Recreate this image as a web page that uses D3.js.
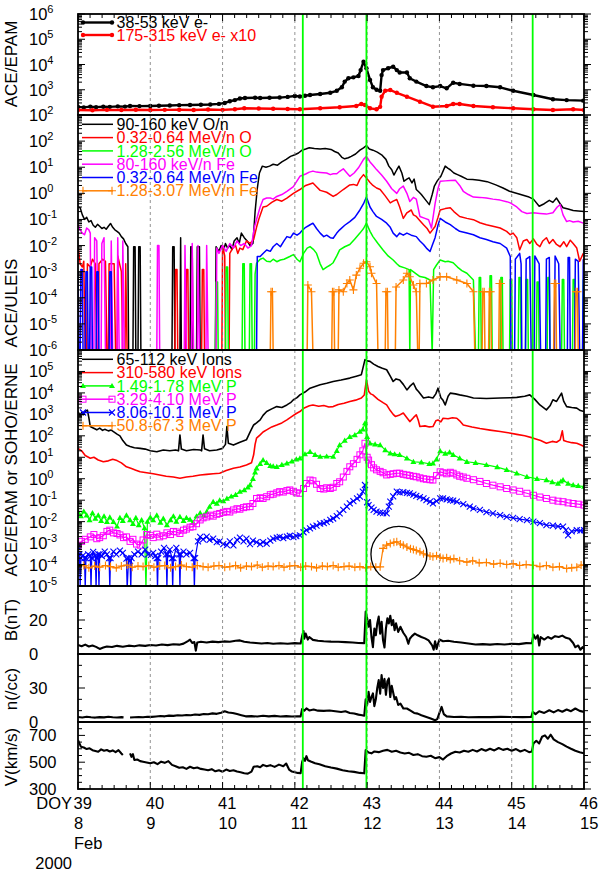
<!DOCTYPE html>
<html>
<head>
<meta charset="utf-8">
<script src="https://cdn.jsdelivr.net/npm/d3@7"></script>
<style>
body { margin: 0; background: #fff; }
</style>
</head>
<body>
<script>
// axis labels
var dayTicks = [39, 40, 41, 42, 43, 44, 45, 46];
var dateLabels = ["8", "9", "10", "11", "12", "13", "14", "15"];
var gridDays = [40, 41, 42, 43, 44, 45];
var shockDays = [42.11, 42.99, 45.29];

// ACE/EPAM electrons  [DOY, value]
var epamE38 = [[39.00,210],[39.08,200],[39.17,215],[39.25,205],[39.35,212],[39.44,210],[39.55,220],[39.65,215],[39.72,228],[39.85,225],[40.0,228],[40.12,232],[40.27,238],[40.4,245],[40.55,250],[40.7,255],[40.83,260],[40.95,275],[41.03,300],[41.10,350],[41.17,390],[41.24,450],[41.31,470],[41.45,480],[41.52,470],[41.65,485],[41.79,490],[41.9,520],[42.0,565],[42.07,540],[42.14,580],[42.21,620],[42.35,680],[42.49,760],[42.58,910],[42.65,1250],[42.69,2100],[42.74,2850],[42.81,3100],[42.88,3500],[42.91,6000],[42.95,12900],[42.99,7100],[43.04,2450],[43.08,1250],[43.13,1000],[43.18,910],[43.20,3800],[43.22,6000],[43.29,7100],[43.36,8200],[43.41,6000],[43.45,4800],[43.55,4800],[43.59,2850],[43.68,2100],[43.82,1400],[43.91,1250],[44.01,1400],[44.10,1140],[44.19,1900],[44.28,1700],[44.47,1450],[44.65,1400],[44.84,1250],[45.02,910],[45.30,620],[45.57,420],[45.76,390],[45.99,370]];
var epamE175 = [[39.0,158],[39.2,155],[39.4,160],[39.6,158],[39.8,162],[40.0,158],[40.2,160],[40.4,162],[40.6,158],[40.8,165],[41.0,160],[41.17,170],[41.3,185],[41.5,180],[41.7,178],[41.9,172],[42.07,168],[42.35,184],[42.62,202],[42.85,227],[42.92,273],[42.97,249],[43.04,184],[43.13,168],[43.18,210],[43.20,531],[43.25,915],[43.32,975],[43.41,760],[43.55,531],[43.73,336],[43.91,213],[44.10,227],[44.19,273],[44.28,273],[44.47,227],[44.74,202],[45.02,184],[45.30,168],[45.57,158],[45.85,168],[46.0,158]];

// ACE/ULEIS  (0 = no counts)
var uleisO90 = [[39.00,0.3],[39.03,0.28],[39.06,0.15],[39.09,0.1],[39.12,0.12],[39.15,0.08],[39.18,0.09],[39.21,0.06],[39.24,0.05],[39.27,0.065],[39.30,0.055],[39.33,0.045],[39.36,0.05],[39.39,0.042],[39.42,0.055],[39.45,0.07],[39.48,0.05],[39.51,0.04],[39.54,0.035],[39.57,0.03],[39.60,0.022],[39.63,0.018],[39.66,0.012],[39.69,0.009],[39.70,0],[39.76,0],[39.77,0.009],[39.79,0.009],[39.80,0],[39.83,0],[39.84,0.009],[39.86,0.009],[39.87,0],[40.30,0],[40.31,0.009],[40.33,0.009],[40.34,0],[40.41,0],[40.42,0.02],[40.43,0],[40.55,0],[40.56,0.009],[40.58,0.009],[40.59,0],[40.64,0],[40.65,0.009],[40.68,0.009],[40.69,0],[40.90,0],[40.91,0.009],[40.95,0.006],[40.98,0.01],[41.01,0.006],[41.04,0.012],[41.07,0.008],[41.10,0.01],[41.13,0.007],[41.16,0.015],[41.20,0.02],[41.23,0.012],[41.26,0.03],[41.30,0.02],[41.34,0.015],[41.38,0.01],[41.42,0.012],[41.45,0.2],[41.48,1.5],[41.51,6],[41.55,11],[41.6,10],[41.65,11],[41.7,13],[41.76,12],[41.82,16],[41.88,20],[41.94,26],[42.0,30],[42.05,35],[42.1,45],[42.15,50],[42.2,56],[42.27,52],[42.35,50],[42.42,52],[42.5,48],[42.55,40],[42.6,35],[42.65,24],[42.69,21],[42.74,23],[42.78,26],[42.84,32],[42.9,45],[42.95,55],[42.99,68],[43.03,50],[43.08,45],[43.14,38],[43.2,30],[43.26,20],[43.3,11],[43.34,8],[43.37,5],[43.41,8],[43.44,11],[43.48,6],[43.51,2.9],[43.55,3.5],[43.58,3.9],[43.62,2.5],[43.65,3.5],[43.68,1.4],[43.72,1.1],[43.75,0.9],[43.8,0.6],[43.86,0.37],[43.9,0.9],[43.93,1.9],[43.97,3],[44.02,4.5],[44.08,11],[44.12,9],[44.15,8],[44.2,6],[44.25,5.2],[44.3,4.5],[44.38,3.5],[44.46,3.4],[44.55,3.2],[44.66,2.8],[44.78,2.1],[44.88,1.6],[44.97,1.2],[45.1,0.95],[45.24,0.72],[45.3,0.6],[45.38,0.32],[45.45,0.4],[45.52,0.54],[45.57,0.45],[45.62,0.66],[45.67,0.4],[45.71,0.28],[45.78,0.25],[45.85,0.22],[45.92,0.21],[46.0,0.2]];
var uleisO032 = [[39.0,0.01],[39.03,0.002],[39.06,0.0015],[39.08,0.0025],[39.10,0],[39.12,0],[39.13,0.002],[39.17,0.0015],[39.2,0.003],[39.24,0.002],[39.26,0],[39.28,0],[39.29,0.002],[39.34,0.003],[39.38,0.0025],[39.40,0],[39.42,0],[39.43,0.002],[39.5,0.002],[39.52,0],[39.54,0],[39.55,0.004],[39.6,0.001],[39.62,0],[39.65,0],[39.66,0.002],[39.68,0],[40.34,0],[40.35,0.0012],[40.37,0.0012],[40.38,0],[40.49,0],[40.50,0.0012],[40.52,0.0012],[40.53,0],[40.71,0],[40.72,0.0012],[40.74,0.0012],[40.75,0],[40.99,0],[41.0,0.01],[41.03,0.004],[41.04,0],[41.09,0],[41.1,0.005],[41.14,0.008],[41.18,0.01],[41.21,0.005],[41.24,0.008],[41.28,0.007],[41.33,0.015],[41.38,0.012],[41.43,0.017],[41.47,0.05],[41.50,0.1],[41.56,0.3],[41.61,0.32],[41.68,0.45],[41.75,0.58],[41.82,0.5],[41.89,0.66],[41.98,1.0],[42.07,1.4],[42.15,2.0],[42.25,2.5],[42.3,1.8],[42.35,1.3],[42.44,1.1],[42.53,0.76],[42.58,0.9],[42.62,1.1],[42.67,1.4],[42.76,2.1],[42.81,2.2],[42.86,2.0],[42.90,3.5],[42.95,5.2],[42.99,3.9],[43.04,2.6],[43.08,2.0],[43.13,1.6],[43.18,1.4],[43.25,0.8],[43.32,0.43],[43.36,0.5],[43.41,0.58],[43.45,0.3],[43.50,0.11],[43.55,0.18],[43.61,0.23],[43.64,0.15],[43.68,0.13],[43.73,0.09],[43.78,0.063],[43.83,0.045],[43.87,0.03],[43.94,0.054],[43.98,0.12],[44.01,0.23],[44.08,0.26],[44.15,0.28],[44.2,0.2],[44.28,0.13],[44.38,0.11],[44.47,0.098],[44.56,0.075],[44.65,0.063],[44.74,0.055],[44.84,0.047],[44.93,0.035],[44.98,0.026],[45.02,0.03],[45.07,0.02],[45.11,0.0068],[45.16,0.015],[45.21,0.017],[45.25,0.012],[45.30,0.018],[45.35,0.011],[45.39,0.0091],[45.43,0.015],[45.48,0.02],[45.52,0.012],[45.57,0.017],[45.62,0.011],[45.67,0.009],[45.72,0.014],[45.76,0.0091],[45.81,0.016],[45.85,0.012],[45.90,0.008],[45.94,0.0025],[45.99,0.005]];
var uleisO128 = [[40.90,0],[40.91,0.0004],[40.93,0.0004],[40.94,0],[41.04,0],[41.05,0.0015],[41.07,0.0015],[41.08,0],[41.27,0],[41.28,0.002],[41.30,0.002],[41.31,0],[41.37,0],[41.38,0.002],[41.40,0.002],[41.41,0],[41.44,0],[41.45,0.0008],[41.47,0.0021],[41.52,0.003],[41.56,0.0033],[41.61,0.0025],[41.66,0.0024],[41.70,0.003],[41.75,0.0024],[41.80,0.0028],[41.85,0.003],[41.93,0.0038],[41.98,0.0045],[42.03,0.003],[42.07,0.0024],[42.12,0.005],[42.17,0.008],[42.21,0.0091],[42.26,0.007],[42.30,0.005],[42.35,0.002],[42.39,0.0012],[42.44,0.0015],[42.49,0.0018],[42.53,0.0022],[42.58,0.004],[42.62,0.0068],[42.69,0.009],[42.76,0.011],[42.83,0.018],[42.9,0.03],[42.95,0.045],[42.99,0.072],[43.04,0.035],[43.08,0.022],[43.15,0.012],[43.22,0.0068],[43.29,0.004],[43.36,0.0028],[43.41,0.002],[43.45,0.0016],[43.52,0.0014],[43.58,0.0012],[43.59,0],[43.60,0.0012],[43.66,0.0009],[43.73,0.00065],[43.80,0.0006],[43.87,0.00048],[43.90,0],[43.92,0.0012],[43.96,0.0018],[44.01,0.0028],[44.08,0.0024],[44.12,0.0025],[44.19,0.0022],[44.25,0.0015],[44.31,0.0011],[44.38,0.00087],[44.47,0.00048],[44.50,0],[44.54,0],[44.55,0.0006],[44.57,0.0006],[44.58,0],[44.69,0],[44.70,0.0007],[44.72,0.0007],[44.73,0],[44.84,0],[44.85,0.0006],[44.87,0.0006],[44.88,0],[44.97,0],[44.98,0.0005],[45.0,0.0005],[45.01,0],[45.09,0],[45.10,0.0006],[45.12,0.0006],[45.13,0],[45.19,0],[45.20,0.0005],[45.22,0.0005],[45.23,0],[45.34,0],[45.35,0.0004],[45.37,0.0004],[45.38,0],[45.49,0],[45.50,0.0006],[45.52,0.0006],[45.53,0],[45.69,0],[45.70,0.0005],[45.72,0.0005],[45.73,0],[45.84,0],[45.85,0.0005],[45.87,0.0005],[45.88,0],[45.98,0],[45.99,0.0005]];
var uleisFe80 = [[39.0,0.063],[39.03,0.04],[39.06,0.03],[39.09,0.026],[39.12,0.047],[39.15,0.04],[39.17,0.03],[39.18,0],[39.22,0],[39.23,0.02],[39.26,0.015],[39.28,0],[39.32,0],[39.33,0.012],[39.36,0.02],[39.38,0],[39.45,0],[39.46,0.015],[39.48,0],[39.54,0],[39.55,0.02],[39.57,0],[39.61,0],[39.62,0.015],[39.64,0],[40.09,0],[40.10,0.01],[40.12,0.01],[40.13,0],[40.47,0],[40.48,0.01],[40.50,0],[40.57,0],[40.58,0.012],[40.60,0],[40.65,0],[40.66,0.01],[40.68,0],[40.77,0],[40.78,0.01],[40.80,0],[40.91,0],[40.92,0.008],[40.95,0.005],[41.0,0.01],[41.05,0.006],[41.1,0.012],[41.15,0.008],[41.2,0.015],[41.25,0.01],[41.3,0.012],[41.35,0.008],[41.4,0.01],[41.44,0.05],[41.47,0.1],[41.52,0.3],[41.56,0.58],[41.61,0.66],[41.66,0.66],[41.7,0.6],[41.75,0.76],[41.82,0.9],[41.89,1.2],[41.98,1.8],[42.03,3],[42.07,4.5],[42.15,5.5],[42.2,6.5],[42.25,7.1],[42.30,6.5],[42.35,6.3],[42.44,6.0],[42.49,5.2],[42.53,5.6],[42.58,5.6],[42.62,7],[42.67,8.7],[42.72,6],[42.76,4.5],[42.82,6],[42.88,9.5],[42.95,20],[42.99,26],[43.04,16],[43.08,12],[43.13,8.1],[43.2,5],[43.27,2.9],[43.34,1.5],[43.41,1.0],[43.45,1.5],[43.50,1.9],[43.55,1.0],[43.59,0.49],[43.64,0.7],[43.68,0.6],[43.73,0.13],[43.8,0.11],[43.85,0.098],[43.89,0.047],[43.94,0.4],[43.98,1.5],[44.01,2.9],[44.08,3.0],[44.15,3.1],[44.22,3.2],[44.28,2],[44.33,1.2],[44.40,0.9],[44.47,0.72],[44.56,0.7],[44.65,0.66],[44.74,0.6],[44.84,0.55],[44.93,0.48],[44.98,0.43],[45.07,0.3],[45.14,0.2],[45.21,0.17],[45.30,0.18],[45.39,0.17],[45.48,0.16],[45.57,0.18],[45.63,0.3],[45.67,0.37],[45.71,0.15],[45.76,0.083],[45.80,0.09],[45.85,0.08],[45.92,0.085],[45.99,0.072]];
var uleisFe032 = [[39.0,0.001],[39.01,0],[39.03,0],[39.04,0.0012],[39.06,0.0012],[39.07,0],[39.10,0],[39.11,0.001],[39.13,0.001],[39.14,0],[39.16,0],[39.17,0.0015],[39.19,0.0015],[39.20,0],[39.25,0],[39.26,0.001],[39.28,0.001],[39.29,0],[39.43,0],[39.44,0.001],[39.46,0.001],[39.47,0],[41.47,0],[41.48,0.0038],[41.52,0.0038],[41.56,0.005],[41.61,0.0068],[41.66,0.006],[41.70,0.009],[41.75,0.012],[41.8,0.009],[41.85,0.015],[41.89,0.022],[41.94,0.02],[41.98,0.03],[42.03,0.025],[42.07,0.03],[42.11,0.04],[42.15,0.05],[42.20,0.06],[42.25,0.072],[42.30,0.045],[42.35,0.03],[42.40,0.022],[42.44,0.025],[42.49,0.02],[42.53,0.019],[42.58,0.03],[42.62,0.04],[42.69,0.06],[42.76,0.083],[42.83,0.12],[42.9,0.23],[42.95,0.4],[42.99,0.72],[43.04,0.3],[43.08,0.2],[43.13,0.13],[43.20,0.1],[43.27,0.072],[43.32,0.05],[43.36,0.03],[43.41,0.022],[43.45,0.03],[43.50,0.025],[43.55,0.03],[43.61,0.025],[43.68,0.022],[43.73,0.015],[43.78,0.011],[43.82,0.008],[43.87,0.0059],[43.90,0.01],[43.94,0.02],[43.98,0.06],[44.01,0.11],[44.08,0.08],[44.15,0.063],[44.22,0.045],[44.28,0.035],[44.38,0.03],[44.47,0.026],[44.56,0.02],[44.65,0.017],[44.74,0.014],[44.84,0.012],[44.93,0.008],[44.98,0.0038],[44.99,0],[45.04,0],[45.05,0.003],[45.11,0.005],[45.13,0.002],[45.14,0],[45.19,0],[45.2,0.003],[45.25,0.0038],[45.27,0],[45.31,0],[45.32,0.004],[45.38,0.002],[45.40,0],[45.47,0],[45.48,0.003],[45.52,0.0035],[45.53,0],[45.59,0],[45.6,0.004],[45.65,0.002],[45.67,0],[45.77,0],[45.78,0.0035],[45.80,0.0035],[45.81,0],[45.87,0],[45.88,0.003],[45.92,0.0025],[45.94,0],[45.98,0],[45.99,0.003]];
var uleisFe128 = [[41.66,0],[41.67,1.7e-4],[41.69,1.7e-4],[41.70,0],[42.17,0],[42.18,3.1e-4],[42.23,1.7e-4],[42.25,0],[42.51,0],[42.52,1.7e-4],[42.54,1.7e-4],[42.55,0],[42.60,0],[42.61,2e-4],[42.67,1.7e-4],[42.72,3.5e-4],[42.76,4.8e-4],[42.81,2e-4],[42.85,7.4e-4],[42.90,1.35e-3],[42.95,2.1e-3],[42.99,2.4e-3],[43.04,1.55e-3],[43.06,8.7e-4],[43.13,3.5e-4],[43.15,0],[43.25,0],[43.26,1.7e-4],[43.28,1.7e-4],[43.29,0],[43.39,0],[43.40,2.6e-4],[43.50,4.8e-4],[43.55,8.7e-4],[43.59,6.4e-4],[43.64,3.1e-4],[43.68,1.7e-4],[43.70,0],[43.72,0],[43.73,3.5e-4],[43.82,3.5e-4],[43.91,4.8e-4],[44.01,6.4e-4],[44.10,6.4e-4],[44.24,4.8e-4],[44.38,3.5e-4],[44.47,1.7e-4],[44.49,0],[44.59,0],[44.60,1.7e-4],[44.62,1.7e-4],[44.63,0],[44.68,0],[44.69,1.7e-4],[44.71,1.7e-4],[44.72,0],[44.82,0],[44.83,3.5e-4],[44.85,3.5e-4],[44.86,0],[45.58,0],[45.59,3.5e-4],[45.61,3.5e-4],[45.62,0],[45.88,0],[45.89,1.7e-4],[45.91,1.7e-4],[45.92,0]];

// ACE/EPAM ions and SOHO/ERNE protons
var epamI65 = [[39.00,1350],[39.03,900],[39.05,1200],[39.07,955],[39.10,1400],[39.13,1580],[39.15,700],[39.17,270],[39.21,230],[39.26,190],[39.30,230],[39.34,180],[39.37,200],[39.42,170],[39.46,185],[39.49,158],[39.54,120],[39.58,100],[39.62,60],[39.67,37],[39.72,32],[39.78,28],[39.86,26],[39.93,24],[40.00,20],[40.09,18],[40.18,22],[40.27,20],[40.35,22],[40.39,20],[40.41,110],[40.43,24],[40.50,20],[40.60,23],[40.69,22],[40.71,20],[40.73,110],[40.75,25],[40.82,20],[40.92,22],[41.00,26],[41.04,40],[41.06,270],[41.08,45],[41.15,37],[41.24,50],[41.33,65],[41.38,150],[41.43,320],[41.47,400],[41.52,550],[41.56,900],[41.61,1350],[41.68,1800],[41.75,2300],[41.82,2100],[41.89,2750],[41.94,3500],[41.98,4800],[42.03,6000],[42.07,8100],[42.14,11000],[42.21,16600],[42.28,20000],[42.35,24000],[42.44,28000],[42.53,34000],[42.64,40000],[42.76,49000],[42.85,60000],[42.92,71000],[42.97,355000],[43.00,310000],[43.04,295000],[43.09,220000],[43.15,170000],[43.21,140000],[43.27,120000],[43.32,60000],[43.36,34000],[43.40,45000],[43.45,40000],[43.50,25000],[43.55,13800],[43.59,20000],[43.64,29000],[43.68,15000],[43.71,11700],[43.78,5750],[43.85,6500],[43.91,5750],[43.95,9000],[43.98,16600],[44.02,6000],[44.05,4500],[44.08,2750],[44.12,7000],[44.15,9800],[44.22,9000],[44.28,8100],[44.38,7000],[44.47,5750],[44.65,5500],[44.84,5750],[45.00,6000],[45.07,6200],[45.18,7000],[45.25,8100],[45.32,5000],[45.39,2750],[45.48,1620],[45.53,2500],[45.57,4800],[45.62,4000],[45.69,9800],[45.72,4000],[45.76,2300],[45.83,2100],[45.90,1950],[45.95,1500],[46.00,1350]];
var epamI310 = [[39.00,26],[39.05,20],[39.10,12],[39.17,9],[39.22,10],[39.28,7.5],[39.35,6.2],[39.42,6.8],[39.48,8],[39.54,7],[39.60,5.5],[39.67,3.6],[39.74,3.0],[39.80,2.5],[39.86,2.1],[39.95,1.9],[40.04,1.7],[40.13,1.5],[40.22,1.3],[40.32,1.2],[40.41,1.05],[40.50,1.2],[40.59,1.3],[40.69,1.5],[40.78,1.6],[40.87,1.7],[40.96,1.8],[41.05,2.4],[41.15,3.1],[41.24,3.5],[41.33,4.4],[41.40,5.5],[41.43,13],[41.45,40],[41.47,78],[41.52,110],[41.56,150],[41.61,190],[41.68,260],[41.75,320],[41.82,400],[41.89,550],[41.96,800],[42.02,1100],[42.07,1350],[42.13,2000],[42.20,2500],[42.25,2750],[42.33,2400],[42.40,2600],[42.47,2200],[42.53,2300],[42.60,2900],[42.68,3300],[42.76,4000],[42.84,4600],[42.92,5750],[42.96,8000],[42.99,41000],[43.02,12000],[43.05,9000],[43.08,8100],[43.15,5000],[43.22,3500],[43.27,2750],[43.32,1500],[43.36,1000],[43.39,800],[43.44,900],[43.50,1150],[43.55,700],[43.59,460],[43.64,700],[43.68,955],[43.71,500],[43.73,270],[43.80,290],[43.86,260],[43.91,270],[43.95,500],[43.98,550],[44.02,450],[44.05,660],[44.12,620],[44.18,700],[44.24,660],[44.28,500],[44.33,320],[44.45,260],[44.56,220],[44.70,185],[44.84,158],[44.95,140],[45.07,117],[45.18,100],[45.30,78],[45.40,60],[45.48,45],[45.56,55],[45.62,50],[45.67,65],[45.70,170],[45.72,60],[45.76,54],[45.83,48],[45.90,45],[45.95,38],[46.00,32]];
var ernePro149 = [[39.00,0.029],[39.04,0.018],[39.08,0.03],[39.12,0.02],[39.16,0.012],[39.20,0.025],[39.24,0.014],[39.28,0.02],[39.32,0.011],[39.36,0.018],[39.40,0.0098],[39.44,0.016],[39.49,0.0098],[39.54,0.006],[39.58,0.015],[39.62,0.011],[39.67,0.02],[39.72,0.012],[39.76,0.008],[39.80,0.015],[39.84,0.0069],[39.88,0.012],[39.92,0.005],[39.94,0],[39.96,0.01],[40.00,0.016],[40.04,0.012],[40.09,0.02],[40.14,0.009],[40.18,0.014],[40.23,0.0069],[40.28,0.012],[40.32,0.018],[40.36,0.01],[40.41,0.017],[40.46,0.011],[40.50,0.015],[40.55,0.0126],[40.59,0.009],[40.64,0.018],[40.69,0.025],[40.74,0.02],[40.78,0.029],[40.82,0.05],[40.87,0.085],[40.92,0.07],[40.96,0.1],[41.01,0.09],[41.06,0.12],[41.12,0.15],[41.18,0.18],[41.24,0.25],[41.30,0.3],[41.35,0.4],[41.38,0.51],[41.42,1.0],[41.45,2.0],[41.47,3.1],[41.52,5.0],[41.56,7.4],[41.61,5.5],[41.66,4.0],[41.70,3.8],[41.75,3.6],[41.82,4.5],[41.89,5.2],[41.96,6.5],[42.02,8.0],[42.07,8.9],[42.14,14],[42.21,18],[42.28,13],[42.35,10.7],[42.44,11],[42.53,10.7],[42.58,20],[42.62,37],[42.69,60],[42.76,91],[42.83,110],[42.90,158],[42.94,200],[42.97,390],[43.00,90],[43.04,45],[43.11,40],[43.18,37],[43.25,22],[43.32,15.5],[43.38,14],[43.45,13],[43.55,9],[43.64,6.2],[43.75,5.8],[43.86,5.0],[43.91,5.2],[43.96,8],[44.01,19.5],[44.08,15],[44.14,17],[44.19,13],[44.28,9],[44.38,6.2],[44.50,5.5],[44.65,4.4],[44.80,3.5],[44.93,2.6],[45.07,1.8],[45.21,1.23],[45.35,1.0],[45.48,0.87],[45.56,0.7],[45.64,0.6],[45.68,0.75],[45.71,0.87],[45.78,0.6],[45.85,0.51],[45.92,0.47],[46.00,0.43]];
var ernePro329 = [[39.00,0.0008],[39.05,0.0012],[39.10,0.0015],[39.17,0.00195],[39.22,0.0025],[39.26,0.0016],[39.30,0.0018],[39.35,0.0022],[39.40,0.0035],[39.44,0.004],[39.49,0.003],[39.54,0.0028],[39.58,0.0024],[39.63,0.0018],[39.67,0.00195],[39.72,0.0012],[39.76,0.0015],[39.81,0.0009],[39.86,0.0008],[39.90,0.0014],[39.95,0.0025],[40.00,0.0023],[40.04,0.0018],[40.09,0.0026],[40.13,0.00195],[40.18,0.0022],[40.23,0.003],[40.28,0.0025],[40.32,0.0035],[40.36,0.0033],[40.41,0.0028],[40.46,0.004],[40.50,0.0045],[40.55,0.0055],[40.59,0.0058],[40.64,0.008],[40.69,0.012],[40.73,0.015],[40.78,0.0166],[40.83,0.02],[40.87,0.018],[40.92,0.022],[40.96,0.024],[41.01,0.027],[41.06,0.03],[41.10,0.028],[41.15,0.035],[41.20,0.04],[41.24,0.038],[41.29,0.045],[41.33,0.049],[41.38,0.05],[41.42,0.07],[41.47,0.12],[41.52,0.13],[41.56,0.12],[41.61,0.145],[41.66,0.18],[41.70,0.19],[41.75,0.22],[41.79,0.25],[41.84,0.24],[41.89,0.28],[41.93,0.3],[41.98,0.26],[42.02,0.22],[42.07,0.21],[42.12,0.35],[42.16,0.6],[42.21,0.87],[42.25,0.8],[42.30,0.55],[42.35,0.35],[42.40,0.33],[42.44,0.38],[42.49,0.35],[42.53,0.4],[42.58,0.6],[42.62,0.72],[42.67,1.2],[42.72,2.2],[42.76,3.6],[42.81,5],[42.86,8],[42.90,13],[42.94,20],[42.97,45],[43.00,10],[43.02,7.4],[43.06,4.5],[43.09,3.2],[43.13,2.6],[43.18,2.2],[43.22,1.9],[43.27,1.5],[43.32,1.6],[43.36,1.7],[43.41,1.8],[43.45,1.8],[43.50,1.6],[43.55,1.5],[43.59,1.4],[43.64,1.3],[43.68,1.23],[43.73,1.1],[43.78,1.0],[43.82,0.95],[43.87,0.9],[43.91,0.87],[43.96,1.4],[44.01,2.1],[44.05,1.9],[44.10,1.7],[44.15,2.0],[44.19,1.8],[44.24,1.5],[44.28,1.3],[44.33,1.2],[44.38,1.05],[44.47,0.9],[44.56,0.75],[44.65,0.6],[44.74,0.5],[44.84,0.42],[44.93,0.35],[45.02,0.3],[45.11,0.26],[45.21,0.21],[45.30,0.17],[45.39,0.14],[45.48,0.12],[45.57,0.1],[45.64,0.09],[45.71,0.085],[45.78,0.075],[45.85,0.07],[45.92,0.065],[46.00,0.059]];
var ernePro806 = [[39.00,0.00066],[39.02,0.0003],[39.03,0],[39.04,0.0002],[39.07,0.00027],[39.09,0.0002],[39.10,0],[39.11,0.0002],[39.14,0.0003],[39.17,0.00025],[39.18,0],[39.19,0.0002],[39.21,0.00039],[39.24,0.00025],[39.25,0],[39.26,0.0002],[39.28,0.0003],[39.29,0],[39.30,0.0003],[39.33,0.00025],[39.37,0.0004],[39.40,0.0003],[39.43,0.0002],[39.44,0],[39.45,0.0002],[39.49,0.0004],[39.53,0.0003],[39.58,0.00045],[39.62,0.00035],[39.67,0.00019],[39.68,0],[39.70,0.0002],[39.72,0.00015],[39.73,0],[39.74,0.0002],[39.78,0.0003],[39.83,0.0004],[39.88,0.0003],[39.93,0.0005],[39.97,0.0003],[40.01,0.00028],[40.04,0.00035],[40.07,0.00025],[40.09,0.0002],[40.10,0],[40.11,0.0002],[40.15,0.0004],[40.19,0.0006],[40.22,0.0003],[40.23,0],[40.24,0.0003],[40.27,0.0005],[40.30,0.0002],[40.31,0],[40.32,0.0002],[40.36,0.0006],[40.40,0.0003],[40.41,0],[40.42,0.0003],[40.46,0.0004],[40.50,0.0003],[40.55,0.00035],[40.60,0.0002],[40.61,0],[40.62,0.0002],[40.66,0.0012],[40.69,0.00195],[40.73,0.0015],[40.78,0.002],[40.82,0.0014],[40.87,0.0016],[40.92,0.0011],[40.96,0.0012],[41.01,0.0009],[41.06,0.0008],[41.10,0.0012],[41.15,0.00079],[41.20,0.0014],[41.24,0.0018],[41.29,0.0012],[41.33,0.0016],[41.38,0.0009],[41.42,0.0013],[41.47,0.0011],[41.52,0.0009],[41.56,0.0011],[41.61,0.00095],[41.66,0.0013],[41.70,0.0016],[41.75,0.0018],[41.79,0.00195],[41.84,0.0017],[41.89,0.002],[41.93,0.0022],[41.98,0.0019],[42.02,0.0021],[42.07,0.0023],[42.12,0.0032],[42.16,0.004],[42.21,0.0048],[42.25,0.0058],[42.30,0.0065],[42.35,0.008],[42.40,0.0085],[42.44,0.0098],[42.49,0.012],[42.53,0.014],[42.58,0.018],[42.62,0.024],[42.67,0.035],[42.72,0.05],[42.76,0.071],[42.81,0.09],[42.86,0.12],[42.90,0.145],[42.94,0.25],[42.97,0.51],[43.00,0.08],[43.02,0.059],[43.06,0.045],[43.09,0.035],[43.13,0.029],[43.18,0.026],[43.22,0.025],[43.27,0.024],[43.30,0.05],[43.32,0.085],[43.36,0.15],[43.41,0.25],[43.45,0.23],[43.50,0.24],[43.55,0.22],[43.59,0.21],[43.64,0.18],[43.68,0.16],[43.73,0.14],[43.78,0.12],[43.82,0.1],[43.87,0.085],[43.91,0.071],[43.96,0.09],[44.01,0.12],[44.05,0.12],[44.10,0.11],[44.15,0.1],[44.19,0.095],[44.24,0.085],[44.33,0.065],[44.42,0.05],[44.47,0.042],[44.56,0.035],[44.65,0.028],[44.74,0.024],[44.84,0.02],[44.93,0.0166],[45.02,0.015],[45.11,0.013],[45.21,0.0117],[45.30,0.01],[45.39,0.0085],[45.48,0.0069],[45.57,0.0065],[45.64,0.006],[45.71,0.0058],[45.75,0.004],[45.78,0.0023],[45.83,0.0035],[45.90,0.004],[45.95,0.0038],[46.00,0.004]];
var ernePro508 = [[39.00,8e-5],[39.08,9e-5],[39.15,7e-5],[39.23,8.5e-5],[39.30,7.5e-5],[39.38,9e-5],[39.45,8e-5],[39.53,7e-5],[39.60,8.5e-5],[39.68,9.5e-5],[39.75,7.5e-5],[39.83,8.5e-5],[39.90,8e-5],[39.98,9e-5],[40.05,7.5e-5],[40.13,8.5e-5],[40.20,9e-5],[40.28,7e-5],[40.35,8e-5],[40.43,9.5e-5],[40.50,8e-5],[40.58,7.5e-5],[40.65,9e-5],[40.73,8e-5],[40.80,7.5e-5],[40.88,8.5e-5],[40.95,9e-5],[41.03,7.5e-5],[41.10,8e-5],[41.18,9e-5],[41.25,7e-5],[41.33,8.5e-5],[41.40,8e-5],[41.48,9.5e-5],[41.55,7.5e-5],[41.63,8.5e-5],[41.70,8e-5],[41.78,9e-5],[41.85,7.5e-5],[41.93,8.5e-5],[42.00,9e-5],[42.08,7.5e-5],[42.15,8.5e-5],[42.23,8e-5],[42.30,7e-5],[42.38,8.5e-5],[42.45,8e-5],[42.53,9e-5],[42.60,7.5e-5],[42.68,8e-5],[42.75,8.5e-5],[42.83,7.5e-5],[42.90,8e-5],[42.98,7e-5],[43.05,8e-5],[43.12,7.5e-5],[43.18,7.8e-5],[43.22,5.7e-4],[43.27,8e-4],[43.32,9.5e-4],[43.37,1.1e-3],[43.41,1.15e-3],[43.46,9e-4],[43.50,8e-4],[43.55,6.6e-4],[43.60,5.5e-4],[43.64,5e-4],[43.68,4.5e-4],[43.73,3.9e-4],[43.78,3.2e-4],[43.82,2.8e-4],[43.87,2.5e-4],[43.91,2.3e-4],[43.96,2.6e-4],[44.01,2.2e-4],[44.05,1.9e-4],[44.10,2.1e-4],[44.15,1.7e-4],[44.20,1.9e-4],[44.28,1.5e-4],[44.38,1.3e-4],[44.46,1.5e-4],[44.55,1.2e-4],[44.65,1.25e-4],[44.75,1.05e-4],[44.84,1.15e-4],[44.93,1.0e-4],[45.02,1.1e-4],[45.11,9e-5],[45.20,1.0e-4],[45.30,9.3e-5],[45.39,8e-5],[45.48,9e-5],[45.57,7.5e-5],[45.66,8e-5],[45.76,6.5e-5],[45.83,7e-5],[45.90,7.5e-5],[45.96,9.5e-5],[46.00,9.3e-5]];

// solar wind (null = data gap)
var magB = [[39.00,5.3],[39.05,4.6],[39.10,5.5],[39.15,4.4],[39.20,5.0],[39.25,4.2],[39.30,3.0],[39.35,3.8],[39.40,4.4],[39.47,4.1],[39.54,4.8],[39.62,4.3],[39.70,4.9],[39.78,4.6],[39.85,5.1],[39.93,4.8],[40.00,5.3],[40.08,5.0],[40.16,5.6],[40.24,5.2],[40.32,5.7],[40.40,5.5],[40.46,6.1],[40.52,7.6],[40.55,8.4],[40.58,6.5],[40.61,7.0],[40.63,2.0],[40.65,6.8],[40.70,7.2],[40.78,6.8],[40.86,7.3],[40.94,7.0],[41.02,7.4],[41.10,7.2],[41.18,7.8],[41.24,8.0],[41.30,7.2],[41.38,6.8],[41.46,6.5],[41.54,6.2],[41.62,6.5],[41.70,6.0],[41.80,6.3],[41.90,6.0],[42.00,6.4],[42.08,6.2],[42.10,10.5],[42.12,13.5],[42.13,9.0],[42.15,12.0],[42.18,8.5],[42.20,10.0],[42.25,8.3],[42.32,7.8],[42.40,7.5],[42.50,7.3],[42.60,7.2],[42.70,7.0],[42.80,6.8],[42.88,6.5],[42.96,6.4],[42.98,24.9],[43.00,21.0],[43.02,16.0],[43.04,20.0],[43.06,10.0],[43.08,4.0],[43.10,15.0],[43.12,11.0],[43.14,18.0],[43.16,22.0],[43.18,12.0],[43.20,19.0],[43.22,8.0],[43.24,3.8],[43.26,15.0],[43.28,21.0],[43.30,18.0],[43.32,22.5],[43.34,17.0],[43.36,20.0],[43.38,14.0],[43.40,18.0],[43.43,13.0],[43.46,16.0],[43.50,12.5],[43.54,10.0],[43.57,6.0],[43.59,9.0],[43.62,10.5],[43.66,12.0],[43.70,11.0],[43.75,10.0],[43.80,9.2],[43.85,8.0],[43.90,5.0],[43.92,2.5],[43.94,7.5],[43.96,3.0],[43.98,6.0],[44.00,8.5],[44.05,7.5],[44.12,7.8],[44.20,7.2],[44.30,6.8],[44.40,6.2],[44.50,5.6],[44.60,5.8],[44.70,5.5],[44.80,5.9],[44.90,5.6],[45.00,6.0],[45.10,5.8],[45.20,6.4],[45.28,6.3],[45.30,11.5],[45.33,9.0],[45.36,11.0],[45.38,5.0],[45.40,10.0],[45.45,8.5],[45.50,10.0],[45.55,9.0],[45.60,10.5],[45.65,10.0],[45.70,10.8],[45.75,9.5],[45.80,9.0],[45.85,6.5],[45.88,4.0],[45.92,5.0],[45.95,2.5],[45.98,4.0],[46.00,3.4]];
var swDensity = [[39.00,4.4],[39.06,4.0],[39.12,4.6],[39.18,4.2],[39.24,3.9],[39.30,4.3],[39.36,4.1],[39.42,4.6],[39.48,4.2],[39.54,4.0],[39.60,4.3],[39.63,4.1],[39.64,null],[39.71,null],[39.72,4.0],[39.78,4.2],[39.84,4.4],[39.90,4.2],[39.96,4.6],[40.02,4.5],[40.08,4.9],[40.14,5.3],[40.20,5.0],[40.26,5.6],[40.32,5.4],[40.38,6.0],[40.44,5.7],[40.50,6.2],[40.56,6.0],[40.62,6.6],[40.68,6.3],[40.74,7.0],[40.80,6.8],[40.86,7.6],[40.92,7.2],[40.98,8.2],[41.03,9.5],[41.08,8.4],[41.14,8.0],[41.20,7.0],[41.26,6.0],[41.32,5.0],[41.40,5.2],[41.48,4.8],[41.56,5.5],[41.64,5.0],[41.72,5.4],[41.80,4.8],[41.88,5.2],[41.96,4.9],[42.04,5.1],[42.08,5.0],[42.10,11.5],[42.13,10.0],[42.16,12.0],[42.20,10.2],[42.26,11.0],[42.32,10.0],[42.40,9.8],[42.48,10.2],[42.56,9.5],[42.64,8.8],[42.70,9.5],[42.76,8.0],[42.82,7.5],[42.88,6.5],[42.93,6.0],[42.96,5.5],[42.98,20.0],[43.00,15.0],[43.02,26.6],[43.04,17.7],[43.06,22.0],[43.08,25.2],[43.10,14.0],[43.12,20.0],[43.14,30.0],[43.16,37.0],[43.18,25.0],[43.20,41.4],[43.22,30.0],[43.24,38.0],[43.26,24.0],[43.28,36.0],[43.30,38.5],[43.32,22.0],[43.34,32.0],[43.36,26.0],[43.38,20.0],[43.40,22.0],[43.43,15.0],[43.46,16.3],[43.50,12.0],[43.55,11.9],[43.60,10.0],[43.65,8.0],[43.70,7.4],[43.75,6.0],[43.82,4.4],[43.88,3.0],[43.94,1.5],[43.97,2.5],[44.00,8.0],[44.03,13.3],[44.06,7.0],[44.10,5.0],[44.20,4.4],[44.30,4.6],[44.40,4.2],[44.55,4.4],[44.70,4.3],[44.85,4.5],[45.00,4.4],[45.15,4.3],[45.27,4.4],[45.29,8.9],[45.33,7.0],[45.38,9.5],[45.45,8.0],[45.52,10.4],[45.58,8.5],[45.64,10.5],[45.70,9.0],[45.76,11.0],[45.82,9.5],[45.88,11.9],[45.94,9.8],[46.00,8.9]];
var swSpeed = [[39.00,665],[39.02,640],[39.04,616],[39.08,610],[39.12,598],[39.16,604],[39.20,590],[39.24,584],[39.28,578],[39.32,596],[39.36,585],[39.40,591],[39.44,580],[39.48,588],[39.52,575],[39.56,590],[39.60,565],[39.62,554],[39.63,null],[39.71,null],[39.72,566],[39.74,540],[39.76,560],[39.78,516],[39.82,520],[39.86,508],[39.90,504],[39.95,498],[40.00,492],[40.05,500],[40.10,486],[40.15,504],[40.20,495],[40.25,508],[40.30,480],[40.35,470],[40.40,458],[40.45,462],[40.50,450],[40.55,466],[40.60,455],[40.65,460],[40.70,450],[40.75,445],[40.80,440],[40.85,448],[40.90,432],[40.95,440],[41.00,429],[41.05,445],[41.10,435],[41.15,440],[41.20,430],[41.25,425],[41.30,418],[41.35,415],[41.40,430],[41.43,466],[41.48,470],[41.52,462],[41.56,480],[41.61,470],[41.66,478],[41.72,465],[41.78,482],[41.84,470],[41.88,490],[41.92,445],[41.96,430],[42.00,425],[42.04,420],[42.08,418],[42.10,500],[42.12,530],[42.14,510],[42.16,545],[42.18,515],[42.22,505],[42.28,492],[42.34,485],[42.42,470],[42.50,460],[42.58,452],[42.66,440],[42.74,432],[42.82,428],[42.90,420],[42.96,417],[42.98,591],[43.02,572],[43.06,566],[43.10,580],[43.16,575],[43.22,585],[43.28,592],[43.34,578],[43.40,585],[43.46,572],[43.52,565],[43.58,570],[43.64,554],[43.70,560],[43.76,545],[43.82,541],[43.88,548],[43.94,530],[44.00,538],[44.05,520],[44.10,545],[44.16,565],[44.22,578],[44.28,572],[44.34,585],[44.40,578],[44.46,592],[44.52,580],[44.58,598],[44.64,585],[44.70,600],[44.76,588],[44.82,606],[44.88,592],[44.94,600],[45.00,585],[45.06,598],[45.12,580],[45.18,592],[45.24,575],[45.28,580],[45.30,640],[45.34,660],[45.38,640],[45.42,690],[45.46,700],[45.50,675],[45.54,705],[45.58,670],[45.64,650],[45.70,635],[45.76,616],[45.82,600],[45.88,585],[45.94,575],[46.00,566]];

// ---------------------------------------------------------------------------
var W = 599, H = 872;
var svg = d3.select("body").append("svg")
    .attr("width", W).attr("height", H)
    .style("font-family", "'Liberation Sans', Arial, Helvetica, sans-serif");

var x = d3.scaleLinear().domain([39, 46]).range([78, 584]);

var panels = [
  {top: 14,  bottom: 115, log: true,  domain: [1e2, 1e6],  labels: [2, 3, 4, 5, 6], title: "ACE/EPAM", tY: 64},
  {top: 115, bottom: 350, log: true,  domain: [1e-6, 1e3], labels: [-6, -5, -4, -3, -2, -1, 0, 1, 2], title: "ACE/ULEIS", tY: 303},
  {top: 350, bottom: 586, log: true,  domain: [1e-5, 1e6], labels: [-5, -4, -3, -2, -1, 0, 1, 2, 3, 4, 5], title: "ACE/EPAM or SOHO/ERNE", tY: 470},
  {top: 586, bottom: 654, log: false, domain: [0, 40],     labels: [0, 20], step: 5, title: "B(nT)", tY: 620},
  {top: 654, bottom: 722, log: false, domain: [0, 60],     labels: [0, 30], step: 10, title: "n(/cc)", tY: 689},
  {top: 722, bottom: 789, log: false, domain: [300, 800],  labels: [300, 500, 700], step: 50, title: "V(km/s)", tY: 757}
];

panels.forEach(function(p, i) {
  p.y = (p.log ? d3.scaleLog() : d3.scaleLinear())
      .domain(p.domain).range([p.bottom, p.top]).clamp(true);
  svg.append("clipPath").attr("id", "clip" + i)
    .append("rect").attr("x", 78).attr("y", p.top).attr("width", 506).attr("height", p.bottom - p.top);
  p.g = svg.append("g").attr("clip-path", "url(#clip" + i + ")");
});

// dashed day lines
svg.selectAll("line.grid").data(gridDays).enter().append("line")
    .attr("x1", d => x(d)).attr("x2", d => x(d))
    .attr("y1", 14).attr("y2", 789)
    .attr("stroke", "#777").attr("stroke-width", 0.8).attr("stroke-dasharray", "3,3");

function yOf(p, v) {
  if (p.log && v <= 0) return p.bottom + 4;
  return p.y(v);
}

function marker(g, type, cx, cy, color) {
  if (type === "circle") {
    g.append("circle").attr("cx", cx).attr("cy", cy).attr("r", 2.2).attr("fill", color);
  } else if (type === "tri") {
    g.append("path").attr("d", "M" + cx + "," + (cy - 3) + "L" + (cx + 3) + "," + (cy + 2.2) + "L" + (cx - 3) + "," + (cy + 2.2) + "Z")
      .attr("fill", color);
  } else if (type === "square") {
    g.append("rect").attr("x", cx - 3).attr("y", cy - 3).attr("width", 6).attr("height", 6)
      .attr("fill", "none").attr("stroke", color).attr("stroke-width", 1);
  } else if (type === "x") {
    g.append("path").attr("d", "M" + (cx - 3) + "," + (cy - 3) + "L" + (cx + 3) + "," + (cy + 3) + "M" + (cx - 3) + "," + (cy + 3) + "L" + (cx + 3) + "," + (cy - 3))
      .attr("stroke", color).attr("stroke-width", 1.1);
  } else if (type === "plus") {
    g.append("path").attr("d", "M" + (cx - 4) + "," + cy + "H" + (cx + 4) + "M" + cx + "," + (cy - 4) + "V" + (cy + 4))
      .attr("stroke", color).attr("stroke-width", 1.1);
  }
}

var series = [
  {p: 0, data: epamE38,  color: "#000",    w: 2.4, mk: "circle", name: "38-53 keV e-"},
  {p: 0, data: epamE175, color: "#f00",    w: 2.4, mk: "circle", name: "175-315 keV e- x10"},
  {p: 1, data: uleisO90,   color: "#000",    w: 1.5, name: "90-160 keV O/n"},
  {p: 1, data: uleisO032,  color: "#f00",    w: 1.5, name: "0.32-0.64 MeV/n O"},
  {p: 1, data: uleisO128,  color: "#00ff00", w: 1.5, name: "1.28-2.56 MeV/n O"},
  {p: 1, data: uleisFe80,  color: "#f0f",    w: 1.5, name: "80-160 keV/n Fe"},
  {p: 1, data: uleisFe032, color: "#00f",    w: 1.5, name: "0.32-0.64 MeV/n Fe"},
  {p: 1, data: uleisFe128, color: "#ff8000", w: 1.5, mk: "plus", name: "1.28-3.07 MeV/n Fe"},
  {p: 2, data: epamI65,    color: "#000",    w: 1.6, name: "65-112 keV Ions"},
  {p: 2, data: epamI310,   color: "#f00",    w: 1.6, name: "310-580 keV Ions"},
  {p: 2, data: ernePro149, color: "#00ff00", w: 1.2, mk: "tri", name: "1.49-1.78 MeV P"},
  {p: 2, data: ernePro329, color: "#f0f",    w: 1.2, mk: "square", name: "3.29-4.10 MeV P"},
  {p: 2, data: ernePro806, color: "#00f",    w: 1.2, mk: "x", name: "8.06-10.1 MeV P"},
  {p: 2, data: ernePro508, color: "#ff8000", w: 1.2, mk: "plus", name: "50.8-67.3 MeV P"},
  {p: 3, data: magB,       color: "#000",    w: 2.1},
  {p: 4, data: swDensity,  color: "#000",    w: 2.1},
  {p: 5, data: swSpeed,    color: "#000",    w: 2.1}
];

series.forEach(function(s) {
  var p = panels[s.p];
  var line = d3.line()
      .defined(d => d[1] !== null)
      .x(d => x(d[0]))
      .y(d => yOf(p, d[1]));
  p.g.append("path").datum(s.data)
      .attr("d", line)
      .attr("fill", "none")
      .attr("stroke", s.color)
      .attr("stroke-width", s.w)
      .attr("stroke-linejoin", "round");
  if (s.mk) {
    var mg = p.g.append("g");
    s.data.forEach(function(d) {
      if (d[1] !== null && d[1] > 0) marker(mg, s.mk, x(d[0]), p.y(d[1]), s.color);
    });
  }
});

// legends
[0, 1, 2].forEach(function(pi) {
  var p = panels[pi];
  var items = series.filter(s => s.p === pi);
  var y0 = pi === 0 ? 22.5 : p.top + 9.3;
  var dy = pi === 0 ? 12.5 : 13.3;
  items.forEach(function(s, k) {
    var ly = y0 + k * dy;
    svg.append("line").attr("x1", 82).attr("x2", 113).attr("y1", ly).attr("y2", ly)
        .attr("stroke", s.color).attr("stroke-width", pi === 0 ? 2.4 : 1.5);
    if (s.mk) {
      marker(svg, s.mk, 83, ly, s.color);
      marker(svg, s.mk, 112, ly, s.color);
    }
    svg.append("text").attr("x", 116.5).attr("y", ly + 5.6)
        .attr("font-size", 16).attr("fill", s.color).text(s.name);
  });
});

// circle annotation around the high-energy proton increase
svg.append("circle").attr("cx", x(43.44)).attr("cy", panels[2].y(3e-4)).attr("r", 28)
    .attr("fill", "none").attr("stroke", "#000").attr("stroke-width", 1.3);

// shock / discontinuity lines
svg.selectAll("line.shock").data(shockDays).enter().append("line")
    .attr("x1", d => x(d)).attr("x2", d => x(d))
    .attr("y1", 14).attr("y2", 789)
    .attr("stroke", "#00ff00").attr("stroke-width", 1.8);

// y ticks, labels, frames
panels.forEach(function(p) {
  var ticks = [];
  if (p.log) {
    var lo = Math.round(Math.log10(p.domain[0])), hi = Math.round(Math.log10(p.domain[1]));
    for (var e = lo; e < hi; e++) {
      for (var m = 1; m < 10; m++) ticks.push({v: m * Math.pow(10, e), major: m === 1});
    }
    ticks.push({v: p.domain[1], major: true});
  } else {
    for (var v = p.domain[0]; v <= p.domain[1]; v += p.step) {
      ticks.push({v: v, major: p.labels.indexOf(v) >= 0 || v === p.domain[1]});
    }
  }
  var tg = svg.append("g").attr("stroke", "#000").attr("stroke-width", 1);
  ticks.forEach(function(t) {
    var ty = p.y(t.v);
    var len = t.major ? 7 : 4;
    tg.append("line").attr("x1", 78).attr("x2", 78 + len).attr("y1", ty).attr("y2", ty);
    tg.append("line").attr("x1", 584).attr("x2", 584 + len).attr("y1", ty).attr("y2", ty);
  });

  p.labels.forEach(function(l) {
    var ty = p.log ? p.y(Math.pow(10, l)) : p.y(l);
    var t = svg.append("text").attr("x", 29).attr("y", ty + 6).attr("font-size", 16.5).attr("fill", "#000");
    if (p.log) {
      t.append("tspan").text("10");
      t.append("tspan").attr("font-size", 11).attr("dy", -7).text(String(l));
    } else {
      t.text(String(l));
    }
  });

  svg.append("text")
      .attr("transform", "translate(17," + p.tY + ") rotate(-90)")
      .attr("text-anchor", "middle").attr("font-size", 17).attr("fill", "#000")
      .text(p.title);

  svg.append("rect").attr("x", 78).attr("y", p.top).attr("width", 506).attr("height", p.bottom - p.top)
      .attr("fill", "none").attr("stroke", "#000").attr("stroke-width", 1.8);
});

// time ticks on top and bottom
var xMinor = d3.range(0, 43).map(k => 39 + k / 6);
var xg = svg.append("g").attr("stroke", "#000").attr("stroke-width", 1);
xMinor.forEach(function(d, k) {
  var major = k % 6 === 0;
  var len = major ? 7 : 4;
  xg.append("line").attr("x1", x(d)).attr("x2", x(d)).attr("y1", 14).attr("y2", 14 + len);
  xg.append("line").attr("x1", x(d)).attr("x2", x(d)).attr("y1", 789).attr("y2", 789 - len);
});

// bottom labels
svg.append("text").attr("x", 72).attr("y", 808.5).attr("text-anchor", "end").attr("font-size", 16.5).text("DOY");
svg.selectAll("text.doy").data(dayTicks).enter().append("text")
    .attr("x", d => x(d) - 4.5).attr("y", 808.5).attr("font-size", 16.5)
    .text(d => d);
svg.selectAll("text.date").data(dateLabels).enter().append("text")
    .attr("x", (d, i) => x(dayTicks[i]) - 4).attr("y", 829).attr("font-size", 16.5)
    .text(d => d);
svg.append("text").attr("x", 74).attr("y", 848.5).attr("font-size", 16.5).text("Feb");
svg.append("text").attr("x", 72).attr("y", 869).attr("text-anchor", "end").attr("font-size", 16.5).text("2000");
</script>
</body>
</html>
